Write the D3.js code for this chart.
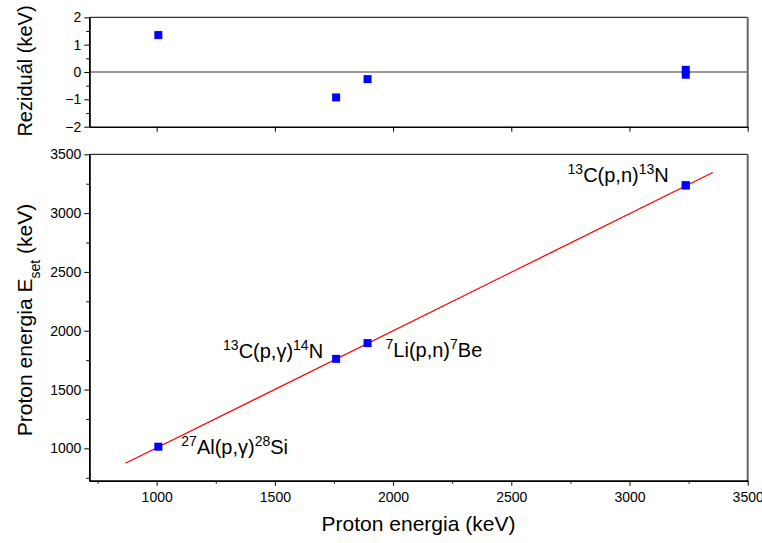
<!DOCTYPE html>
<html>
<head>
<meta charset="utf-8">
<script src="https://cdn.jsdelivr.net/npm/d3@7"></script>
<style>
  body { margin: 0; background: #fff; }
  svg { font-family: "Liberation Sans", Arial, sans-serif; }
</style>
</head>
<body>
<svg id="chart" width="762" height="543"></svg>
<script>
// data
const protonE = [1007, 1759, 1892, 3238, 3238];
const setE = [1014, 1761, 1895, 3236, 3236];
const residual = [1.35, -0.93, -0.26, 0.08, -0.1];
const fitX = [868, 3352];
const fitY = [873, 3345];
const labels = [
  { i: 3, parts: [["13", 1], ["C(p,n)", 0], ["13", 1], ["N", 0]], anchor: "end", dx: -17, dy: -3 },
  { i: 1, parts: [["13", 1], ["C(p,γ)", 0], ["14", 1], ["N", 0]], anchor: "end", dx: -13, dy: -1 },
  { i: 2, parts: [["7", 1], ["Li(p,n)", 0], ["7", 1], ["Be", 0]], anchor: "start", dx: 18, dy: 14 },
  { i: 0, parts: [["27", 1], ["Al(p,γ)", 0], ["28", 1], ["Si", 0]], anchor: "start", dx: 23, dy: 7 }
];
const xMajor = [1000, 1500, 2000, 2500, 3000, 3500];
const xMinor = [750, 1250, 1750, 2250, 2750, 3250];
const yMajor = [1000, 1500, 2000, 2500, 3000, 3500];
const yMinor = [750, 1250, 1750, 2250, 2750, 3250];
const rMajor = [-2, -1, 0, 1, 2];
const rMinor = [-1.5, -0.5, 0.5, 1.5];

const LEFT = 89.3, RIGHT = 747.7;
const TOP1 = 17.3, BOT1 = 126.7;
const TOP2 = 154.3, BOT2 = 480.7;

const svg = d3.select("#chart");

const x = d3.scaleLinear().domain([715, 3500]).range([LEFT, RIGHT]);
const yR = d3.scaleLinear().domain([-2, 2]).range([BOT1, TOP1]);
const y = d3.scaleLinear().domain([725, 3500]).range([BOT2, TOP2]);

function styleAxis (g) {
  g.selectAll("path.domain").attr("stroke", "#000").attr("stroke-width", 1.5);
  g.selectAll(".tick line").attr("stroke", "#000").attr("stroke-width", 1);
  g.selectAll(".tick text").attr("fill", "#000").style("font-size", "14px")
    .style("font-family", "'Liberation Sans', Arial, sans-serif");
}

function frame (top, bottom) {
  svg.append("line").attr("x1", LEFT).attr("x2", RIGHT).attr("y1", top).attr("y2", top)
    .attr("stroke", "#000").attr("stroke-width", 1);
  svg.append("line").attr("x1", RIGHT).attr("x2", RIGHT).attr("y1", top).attr("y2", bottom)
    .attr("stroke", "#666").attr("stroke-width", 2);
}

// ---- top panel: residuals
frame(TOP1, BOT1);

svg.append("line")
  .attr("x1", LEFT).attr("x2", RIGHT)
  .attr("y1", yR(0)).attr("y2", yR(0))
  .attr("stroke", "#777").attr("stroke-width", 1.5);

svg.append("g").attr("transform", `translate(0,${BOT1})`)
  .call(d3.axisBottom(x).tickValues(xMajor).tickSize(5).tickSizeOuter(0).tickFormat(""))
  .call(styleAxis);

svg.append("g").attr("transform", `translate(${LEFT},0)`)
  .call(d3.axisLeft(yR).tickValues(rMinor).tickSize(3).tickSizeOuter(0).tickFormat(""))
  .call(styleAxis);
svg.append("g").attr("transform", `translate(${LEFT},0)`)
  .call(d3.axisLeft(yR).tickValues(rMajor).tickSize(5).tickSizeOuter(0).tickPadding(3).tickFormat(d3.format("d")))
  .call(styleAxis);

svg.append("g").selectAll("rect")
  .data(protonE)
  .join("rect")
  .attr("x", d => x(d) - 4)
  .attr("y", (d, i) => yR(residual[i]) - 4)
  .attr("width", 8).attr("height", 8)
  .attr("fill", "#0000ff");

// ---- bottom panel: calibration
frame(TOP2, BOT2);

svg.append("g").attr("transform", `translate(0,${BOT2})`)
  .call(d3.axisBottom(x).tickValues(xMinor).tickSize(3).tickSizeOuter(0).tickFormat(""))
  .call(styleAxis);
svg.append("g").attr("transform", `translate(0,${BOT2})`)
  .call(d3.axisBottom(x).tickValues(xMajor).tickSize(5).tickSizeOuter(0).tickPadding(6).tickFormat(d3.format("d")))
  .call(styleAxis);

svg.append("g").attr("transform", `translate(${LEFT},0)`)
  .call(d3.axisLeft(y).tickValues(yMinor).tickSize(3).tickSizeOuter(0).tickFormat(""))
  .call(styleAxis);
svg.append("g").attr("transform", `translate(${LEFT},0)`)
  .call(d3.axisLeft(y).tickValues(yMajor).tickSize(5).tickSizeOuter(0).tickPadding(3).tickFormat(d3.format("d")))
  .call(styleAxis);

const line = d3.line().x(d => x(d[0])).y(d => y(d[1]));
svg.append("path")
  .datum(fitX.map((d, i) => [d, fitY[i]]))
  .attr("d", line)
  .attr("fill", "none")
  .attr("stroke", "#ff0000")
  .attr("stroke-width", 1.3);

svg.append("g").selectAll("rect")
  .data(protonE)
  .join("rect")
  .attr("x", d => x(d) - 4)
  .attr("y", (d, i) => y(setE[i]) - 4)
  .attr("width", 8).attr("height", 8)
  .attr("fill", "#0000ff");

// reaction labels
labels.forEach(l => {
  const t = svg.append("text")
    .attr("x", x(protonE[l.i]) + l.dx)
    .attr("y", y(setE[l.i]) + l.dy)
    .attr("text-anchor", l.anchor)
    .style("font-size", "20px")
    .attr("fill", "#000");
  l.parts.forEach(p => {
    if (p[1]) {
      t.append("tspan").attr("baseline-shift", "super").style("font-size", "14px").text(p[0]);
    } else {
      t.append("tspan").text(p[0]);
    }
  });
});

// axis titles
svg.append("text")
  .attr("x", (LEFT + RIGHT) / 2).attr("y", 531)
  .attr("text-anchor", "middle")
  .style("font-size", "21px")
  .text("Proton energia (keV)");

const yt = svg.append("text")
  .attr("transform", "translate(32,320) rotate(-90)")
  .attr("text-anchor", "middle")
  .style("font-size", "21px");
yt.append("tspan").text("Proton energia E");
yt.append("tspan").attr("baseline-shift", "sub").style("font-size", "14px").text("set");
yt.append("tspan").text(" (keV)");

svg.append("text")
  .attr("transform", "translate(32,71) rotate(-90)")
  .attr("text-anchor", "middle")
  .style("font-size", "20px")
  .text("Reziduál (keV)");
</script>
</body>
</html>
